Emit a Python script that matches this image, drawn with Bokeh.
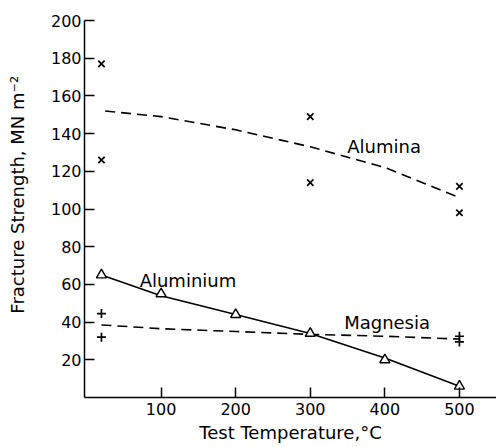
from bokeh.plotting import figure
from bokeh.models import Range1d, FixedTicker, Label
from bokeh.embed import file_html
from bokeh.resources import INLINE

# --- data ---
alumina_x = [20, 20, 300, 300, 500, 500]
alumina_y = [177, 126, 149, 114, 112, 98]
alumina_fit_x = [25, 100, 200, 300, 400, 500]
alumina_fit_y = [152, 149, 142, 133, 122, 106]

aluminium_x = [20, 100, 200, 300, 400, 500]
aluminium_y = [65, 55, 44, 34, 20, 6]
aluminium_fit_x = [20, 100, 200, 300, 400, 500]
aluminium_fit_y = [65, 54, 44, 34, 21, 6]

magnesia_x = [20, 20, 500, 500]
magnesia_y = [44.5, 32, 32.5, 29.5]
magnesia_fit_x = [20, 100, 200, 300, 400, 500]
magnesia_fit_y = [38.5, 36.5, 35, 33.5, 32.5, 31]

x_ticks = [100, 200, 300, 400, 500]
y_ticks = [20, 40, 60, 80, 100, 120, 140, 160, 180, 200]

FONT = "DejaVu Sans"

p = figure(width=496, height=447, output_backend="svg", toolbar_location=None,
           x_range=Range1d(-2.7, 549.7), y_range=Range1d(0, 200),
           min_border_left=84, min_border_right=0, min_border_top=20,
           min_border_bottom=50)
p.outline_line_color = None
p.grid.visible = False
p.background_fill_color = "white"

for ax in (p.xaxis[0], p.yaxis[0]):
    ax.axis_line_width = 1.5
    ax.major_tick_line_width = 1.5
    ax.major_tick_in = 10
    ax.major_tick_out = 0
    ax.minor_tick_line_color = None
    ax.major_label_text_font = FONT
    ax.major_label_text_font_size = "16px"
    ax.major_label_text_color = "black"
    ax.axis_label_text_font = FONT
    ax.axis_label_text_font_size = "18px"
    ax.axis_label_text_font_style = "normal"
    ax.axis_label_text_color = "black"
    ax.axis_line_color = "black"
    ax.major_tick_line_color = "black"

p.xaxis.ticker = FixedTicker(ticks=x_ticks)
p.yaxis.ticker = FixedTicker(ticks=y_ticks)
p.xaxis.axis_label = "Test Temperature,°C"
p.yaxis.axis_label = "\u00a0\u00a0\u00a0\u00a0\u00a0Fracture Strength, MN m⁻²"
p.xaxis.major_label_standoff = 5
p.xaxis.axis_label_standoff = 4
p.yaxis.major_label_standoff = 3
p.yaxis.axis_label_standoff = 20

# fitted curves
p.line(alumina_fit_x, alumina_fit_y, line_color="black", line_width=1.6, line_dash="10 6")
p.line(magnesia_fit_x, magnesia_fit_y, line_color="black", line_width=1.6, line_dash="10 6")
p.line(aluminium_fit_x, aluminium_fit_y, line_color="black", line_width=1.6)

# data points
p.scatter(alumina_x, alumina_y, marker="x", size=9, line_color="black", line_width=1.7)
p.scatter(magnesia_x, magnesia_y, marker="cross", size=9, line_color="black", line_width=1.7)
p.scatter(aluminium_x, aluminium_y, marker="triangle", size=10, line_color="black",
          fill_color="white", line_width=1.4)

# labels
for txt, x, y in [("Alumina", 399, 133), ("Aluminium", 136, 62), ("Magnesia", 403, 40)]:
    p.add_layout(Label(x=x, y=y, text=txt, text_font=FONT, text_font_size="18px",
                       text_align="center", text_baseline="middle", text_color="black"))

open("out.html", "w").write(file_html(p, INLINE))
